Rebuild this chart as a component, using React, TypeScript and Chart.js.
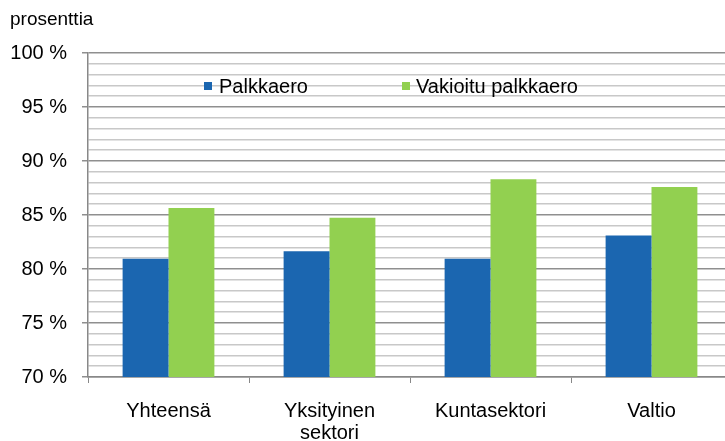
import React, { useEffect, useRef } from "react";
import { Chart, registerables } from "chart.js";

Chart.register(...registerables);

const categories: (string | string[])[] = ["Yhteensä", ["Yksityinen", "sektori"], "Kuntasektori", "Valtio"];
const palkkaero = [80.95, 81.65, 80.95, 83.1];
const vakioituPalkkaero = [85.65, 84.75, 88.3, 87.6];
const seriesLabels = ["Palkkaero", "Vakioitu palkkaero"];
const seriesColors = ["#1b66b0", "#92d050"];
const yMin = 70;
const yMax = 100;
const yUnitLabel = "prosenttia";

const FONT = "'Liberation Sans', Arial, sans-serif";

const legendPlugin = {
  id: "insideLegend",
  afterDatasetsDraw(chart: any) {
    const ctx = chart.ctx;
    const items = chart.data.datasets.map((d: any, i: number) => ({
      label: d.label,
      color: d.backgroundColor,
      box: i === 0 ? 204 : 402,
      text: i === 0 ? 219 : 416,
    }));
    ctx.save();
    ctx.font = `20px ${FONT}`;
    ctx.textBaseline = "middle";
    ctx.textAlign = "left";
    items.forEach((it: any) => {
      ctx.fillStyle = it.color;
      ctx.fillRect(it.box, 82, 8, 8);
      ctx.fillStyle = "#000";
      ctx.fillText(it.label, it.text, 87);
    });
    ctx.restore();
  },
};

const unitPlugin = {
  id: "unitLabel",
  afterDraw(chart: any) {
    const ctx = chart.ctx;
    ctx.save();
    ctx.font = `19px ${FONT}`;
    ctx.fillStyle = "#000";
    ctx.textBaseline = "middle";
    ctx.textAlign = "left";
    ctx.fillText(yUnitLabel, 10, 20);
    ctx.restore();
  },
};

export default function App() {
  const ref = useRef<HTMLCanvasElement | null>(null);
  useEffect(() => {
    if (!ref.current) return;
    const chart = new Chart(ref.current, {
      type: "bar",
      data: {
        labels: categories as any,
        datasets: [
          {
            label: seriesLabels[0],
            data: palkkaero,
            backgroundColor: seriesColors[0],
            borderWidth: 0,
          },
          {
            label: seriesLabels[1],
            data: vakioituPalkkaero,
            backgroundColor: seriesColors[1],
            borderWidth: 0,
          },
        ],
      },
      options: {
        responsive: false,
        animation: false,
        devicePixelRatio: 1,
        layout: { padding: { top: 53, right: 1, left: 0, bottom: 0 } },
        plugins: {
          legend: { display: false },
          tooltip: { enabled: false },
        },
        datasets: {
          bar: { barPercentage: 1, categoryPercentage: 0.57 },
        },
        scales: {
          x: {
            offset: true,
            grid: {
              offset: true,
              drawOnChartArea: false,
              drawTicks: true,
              tickLength: 6,
              tickColor: "#888888",
            },
            border: { color: "#888888", width: 1.5 },
            ticks: {
              color: "#000",
              padding: 17,
              font: { family: FONT, size: 20, lineHeight: 1.1 },
              maxRotation: 0,
              autoSkip: false,
            },
            afterFit(scale: any) {
              scale.height = 64;
            },
          },
          y: {
            min: yMin,
            max: yMax,
            grid: {
              color: (c: any) => (c.tick && c.tick.value % 5 === 0 ? "#8f8f8f" : "#c8c8c8"),
              tickColor: (c: any) => (c.tick && c.tick.value % 5 === 0 ? "#8f8f8f" : "rgba(0,0,0,0)"),
              lineWidth: 1.5,
              tickLength: 6,
            },
            border: { color: "#888888", width: 1.5 },
            ticks: {
              stepSize: 1,
              autoSkip: false,
              color: "#000",
              padding: 15,
              font: { family: FONT, size: 20 },
              callback: (v: any) => (Number(v) % 5 === 0 ? `${v} %` : ""),
            },
            afterFit(scale: any) {
              scale.width = 88;
            },
          },
        },
      },
      plugins: [legendPlugin, unitPlugin],
    });
    return () => chart.destroy();
  }, []);

  return (
    <div style={{ position: "fixed", left: 0, top: 0, width: 725, height: 441, overflow: "hidden", background: "#fff" }}>
      <canvas ref={ref} width={733} height={441} style={{ width: 733, height: 441, display: "block" }} />
    </div>
  );
}
